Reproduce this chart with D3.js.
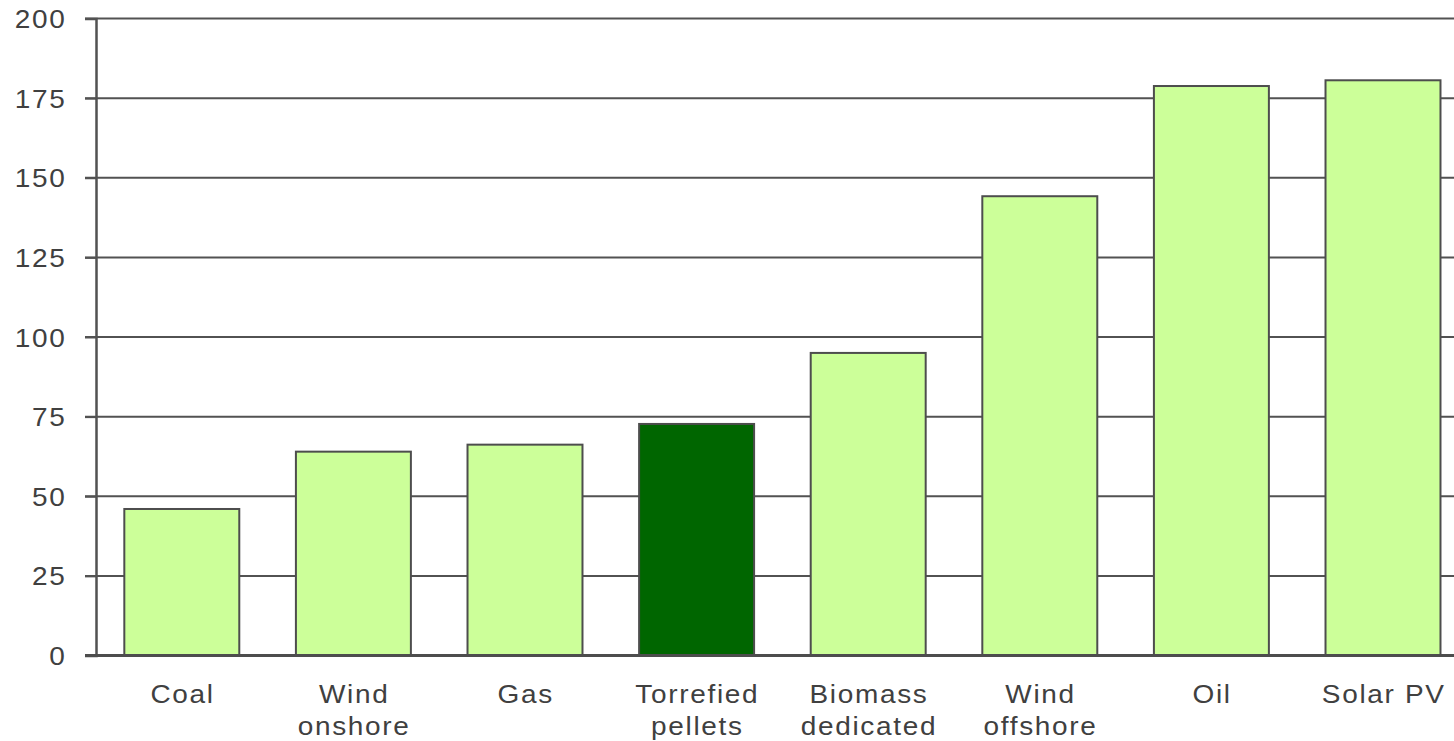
<!DOCTYPE html>
<html>
<head>
<meta charset="utf-8">
<script src="https://cdn.jsdelivr.net/npm/d3@7"></script>
<style>
  html, body { margin: 0; padding: 0; background: #ffffff; }
  svg { display: block; }
  text { font-family: "Liberation Sans", Arial, sans-serif; fill: #404040; }
</style>
</head>
<body>
<svg id="chart" width="1454" height="741"></svg>
<script>
const categories = ["Coal", "Wind onshore", "Gas", "Torrefied pellets", "Biomass dedicated", "Wind offshore", "Oil", "Solar PV"];
const categoryLines = [["Coal"], ["Wind", "onshore"], ["Gas"], ["Torrefied", "pellets"], ["Biomass", "dedicated"], ["Wind", "offshore"], ["Oil"], ["Solar PV"]];
const values = [46, 64, 66.2, 72.7, 95, 144.2, 178.8, 180.6];
const highlighted = ["Torrefied pellets"];
const yTicks = [0, 25, 50, 75, 100, 125, 150, 175, 200];

const W = 1454, H = 741;
const left = 96, zeroY = 655.5, topY = 18.5;
const sx = 1.12; // horizontal stretch of the source's text
const ls = 1.5;  // letter spacing
const fontSize = 25;

const svg = d3.select("#chart");

const x = d3.scaleBand()
  .domain(categories)
  .range([left, left + 8 * 171.6])
  .paddingInner(0.33)
  .paddingOuter(0.165);

const y = d3.scaleLinear().domain([0, 200]).range([zeroY, topY]);

// gridlines
svg.append("g")
  .selectAll("line")
  .data(yTicks.filter(d => d !== 0))
  .join("line")
  .attr("x1", left - 11)
  .attr("x2", W)
  .attr("y1", d => y(d))
  .attr("y2", d => y(d))
  .attr("stroke", "#525252")
  .attr("stroke-width", 2);

// y axis
const yAxis = d3.axisLeft(y).tickValues(yTicks).tickSize(11).tickPadding(0).tickFormat(d3.format("d"));
const gy = svg.append("g").attr("transform", `translate(${left},0)`).call(yAxis);
gy.select(".domain").attr("stroke", "#525252").attr("stroke-width", 2.5);
gy.selectAll(".tick line").attr("stroke", "#525252").attr("stroke-width", 2);
gy.selectAll(".tick text")
  .attr("x", (-31 + ls) / sx)
  .attr("dy", "0.36em")
  .attr("transform", `scale(${sx},1)`)
  .style("font-size", fontSize + "px")
  .style("letter-spacing", ls + "px")
  .style("font-family", '"Liberation Sans", Arial, sans-serif')
  .attr("fill", "#404040");

// bars
svg.append("g")
  .selectAll("rect")
  .data(categories)
  .join("rect")
  .attr("x", d => x(d))
  .attr("width", x.bandwidth())
  .attr("y", (d, i) => y(values[i]))
  .attr("height", (d, i) => y(0) - y(values[i]))
  .attr("fill", d => highlighted.includes(d) ? "#006600" : "#ccff99")
  .attr("stroke", "#4d4d4d")
  .attr("stroke-width", 2);

// baseline (zero line)
svg.append("line")
  .attr("x1", left - 11)
  .attr("x2", W)
  .attr("y1", y(0))
  .attr("y2", y(0))
  .attr("stroke", "#4d4d4d")
  .attr("stroke-width", 3);

// x labels
const gx = svg.append("g");
categories.forEach((c, i) => {
  const cx = x(c) + x.bandwidth() / 2;
  const g = gx.append("g").attr("transform", `translate(${cx + ls / 2},0) scale(${sx},1)`);
  categoryLines[i].forEach((line, j) => {
    g.append("text")
      .attr("x", 0)
      .attr("y", 703 + j * 32)
      .attr("text-anchor", "middle")
      .style("font-size", fontSize + "px")
      .style("letter-spacing", ls + "px")
      .text(line);
  });
});
</script>
</body>
</html>
